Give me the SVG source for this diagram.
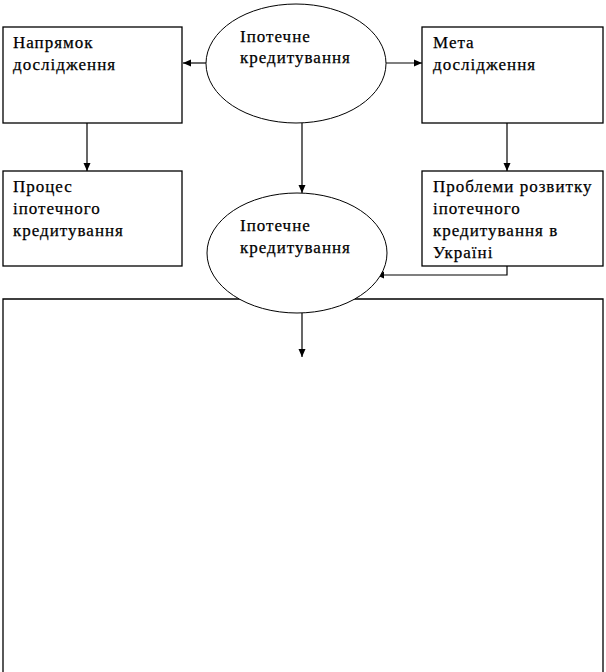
<svg xmlns="http://www.w3.org/2000/svg" width="606" height="672" viewBox="0 0 606 672">
<defs>
<style>
.box{fill:#fff;stroke:#000;stroke-width:1.3}
.ell{fill:#fff;stroke:#000;stroke-width:1}
.t{font-family:"Liberation Serif","Times New Roman",serif;font-size:17px;letter-spacing:1px;fill:#000;stroke:#000;stroke-width:0.25}
.c{fill:none;stroke:#000;stroke-width:1.2}
</style>
<marker id="ah" viewBox="0 0 8 8" refX="8" refY="4" markerWidth="8" markerHeight="8" markerUnits="userSpaceOnUse" orient="auto">
<path d="M0,0.5 L8,4 L0,7.5 Z" fill="#000"/>
</marker>
</defs>
<rect width="606" height="672" fill="#fff"/>
<g id="main-box"><path class="box" d="M3,680 L3,299 L603,299 L603,680" fill="#fff"/></g>
<g id="napryamok"><rect class="box" x="3" y="27" width="179" height="96"/>
<text class="t"><tspan x="13" y="48">Напрямок</tspan><tspan x="13" y="70">дослідження</tspan></text></g>
<g id="meta"><rect class="box" x="422" y="27" width="181" height="96"/>
<text class="t"><tspan x="433" y="48">Мета</tspan><tspan x="433" y="70">дослідження</tspan></text></g>
<g id="protses"><rect class="box" x="3" y="171" width="179" height="95"/>
<text class="t"><tspan x="13" y="192">Процес</tspan><tspan x="13" y="214">іпотечного</tspan><tspan x="13" y="236">кредитування</tspan></text></g>
<g id="problemy"><rect class="box" x="422" y="171" width="181" height="95"/>
<text class="t"><tspan x="433" y="192">Проблеми розвитку</tspan><tspan x="433" y="214">іпотечного</tspan><tspan x="433" y="236">кредитування в</tspan><tspan x="433" y="258">Україні</tspan></text></g>
<g id="connectors">
<line class="c" x1="206" y1="63" x2="183" y2="63" marker-end="url(#ah)"/>
<line class="c" x1="386" y1="63" x2="422" y2="63" marker-end="url(#ah)"/>
<line class="c" x1="87" y1="123" x2="87" y2="171" marker-end="url(#ah)"/>
<line class="c" x1="507" y1="123" x2="507" y2="171" marker-end="url(#ah)"/>
<line class="c" x1="302" y1="123" x2="302" y2="193" marker-end="url(#ah)"/>
<polyline class="c" points="507,266 507,275 376,275" marker-end="url(#ah)"/>
<line class="c" x1="302" y1="313" x2="302" y2="357" marker-end="url(#ah)"/>
</g>
<g id="ipoteka-top"><ellipse class="ell" cx="296" cy="63.5" rx="90" ry="59.5"/>
<text class="t"><tspan x="240" y="42">Іпотечне</tspan><tspan x="240" y="63">кредитування</tspan></text></g>
<g id="ipoteka-center"><ellipse class="ell" cx="297" cy="253" rx="90" ry="60"/>
<text class="t"><tspan x="240" y="231">Іпотечне</tspan><tspan x="240" y="253">кредитування</tspan></text></g>
</svg>
